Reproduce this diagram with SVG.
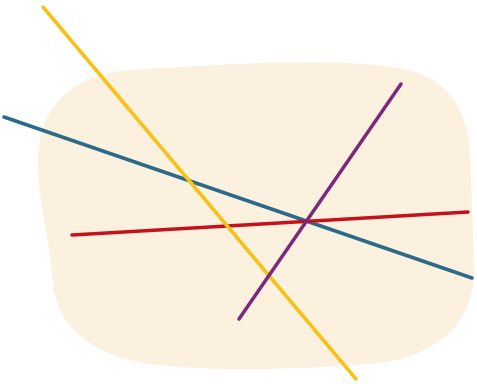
<svg xmlns="http://www.w3.org/2000/svg" width="477" height="384" viewBox="0 0 477 384">
<style>
.ln{fill:none;stroke-linecap:round;stroke-width:3.5}
</style>
<rect width="477" height="384" fill="#ffffff"/>
<path id="blob" d="M 130 70 C 250 63, 330 58, 400 68 C 450 78, 466 110, 470 150 L 474 268 C 475 320, 440 355, 380 363 C 300 370, 200 372, 145 363 C 85 353, 56 322, 53 282 C 49 232, 38 205, 38 162 C 38 102, 78 74, 130 70 Z" fill="#fcf0df"/>
<g id="connectors">
<line class="ln" x1="4" y1="117" x2="472" y2="278" stroke="#2b6a89"/>
<line class="ln" x1="72" y1="235" x2="468" y2="212" stroke="#c4121c"/>
<line class="ln" x1="43" y1="7" x2="356" y2="379" stroke="#f6c218" stroke-width="4"/>
<line class="ln" x1="239" y1="319" x2="401" y2="84" stroke="#7a2a7c"/>
</g>
</svg>
